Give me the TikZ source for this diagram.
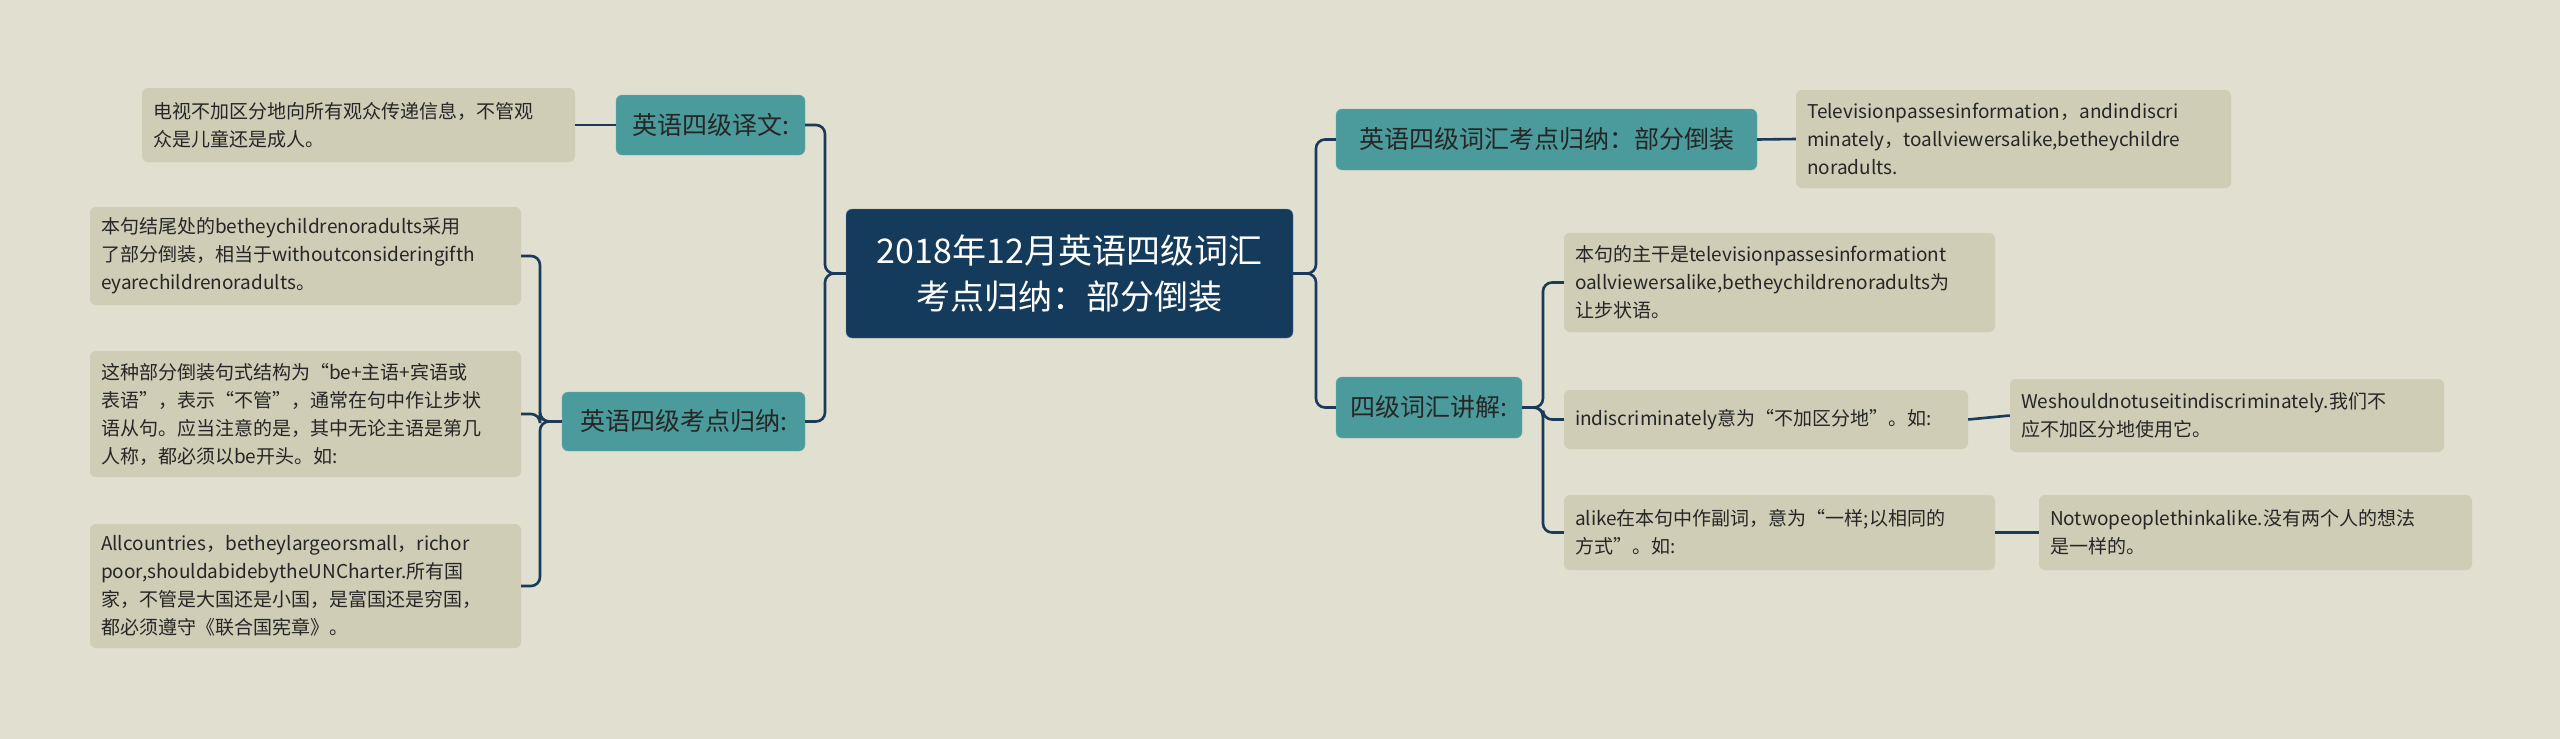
\documentclass[tikz,border=0pt]{standalone}
\usepackage{fontspec}
\setmainfont{Noto Sans CJK SC}
\begin{document}
\begin{tikzpicture}[x=1pt,y=-1pt,
  leaf/.style={fill=leafc,rounded corners=6,inner xsep=11pt,inner ysep=0pt,align=left,font=\fontsize{19}{28}\selectfont,text=black!85},
  branch/.style={fill=brc,draw=brc!80!white,rounded corners=6,inner sep=0pt,font=\fontsize{25}{30}\selectfont,text=black!85},
  conn/.style={draw=linec,line width=2.6pt,rounded corners=9}]
\definecolor{bgc}{HTML}{E0DFD0}
\definecolor{leafc}{HTML}{CFCDB6}
\definecolor{brc}{HTML}{4C9B9C}
\definecolor{rootc}{HTML}{143A5C}
\definecolor{linec}{HTML}{1B3A5A}
\fill[bgc] (0,0) rectangle (2560,739);
\useasboundingbox (0,0) rectangle (2560,739);
\node[fill=rootc,draw=rootc!60!white,rounded corners=6,minimum width=447pt,minimum height=129pt,text=white,align=center,font=\fontsize{34}{46}\selectfont] (root) at (1069.5,273.5) {2018年12月英语四级词汇\\考点归纳：部分倒装};
% left
\node[branch,minimum width=189pt,minimum height=60pt] (L1) at (710.5,125) {英语四级译文:};
\node[branch,minimum width=243pt,minimum height=59pt] (L2) at (683.5,421.5) {英语四级考点归纳:};
\node[leaf,text width=411pt,minimum height=74pt] (l1a) at (358.5,125) {电视不加区分地向所有观众传递信息，不管观\\众是儿童还是成人。};
\node[leaf,text width=409pt,minimum height=98pt] (l2a) at (305.5,256) {本句结尾处的betheychildrenoradults采用\\了部分倒装，相当于withoutconsideringifth\\eyarechildrenoradults。};
\node[leaf,text width=409pt,minimum height=126pt] (l2b) at (305.5,414) {这种部分倒装句式结构为“be+主语+宾语或\\表语”，表示“不管”，通常在句中作让步状\\语从句。应当注意的是，其中无论主语是第几\\人称，都必须以be开头。如:};
\node[leaf,text width=409pt,minimum height=124pt] (l2c) at (305.5,586) {Allcountries，betheylargeorsmall，richor\\poor,shouldabidebytheUNCharter.所有国\\家，不管是大国还是小国，是富国还是穷国，\\都必须遵守《联合国宪章》。};
% right
\node[branch,minimum width=421pt,minimum height=61pt] (R1) at (1546.5,139.5) {英语四级词汇考点归纳：部分倒装};
\node[branch,minimum width=186pt,minimum height=61pt] (R2) at (1429,407.5) {四级词汇讲解:};
\node[leaf,text width=413pt,minimum height=98pt] (r1a) at (2013.5,139) {Televisionpassesinformation，andindiscri\\minately，toallviewersalike,betheychildre\\noradults.};
\node[leaf,text width=409pt,minimum height=99pt] (r2a) at (1779.5,282.5) {本句的主干是televisionpassesinformationt\\oallviewersalike,betheychildrenoradults为\\让步状语。};
\node[leaf,text width=382pt,minimum height=59pt] (r2b) at (1766,419.5) {indiscriminately意为“不加区分地”。如:};
\node[leaf,text width=409pt,minimum height=75pt] (r2c) at (1779.5,532.5) {alike在本句中作副词，意为“一样;以相同的\\方式”。如:};
\node[leaf,text width=412pt,minimum height=73pt] (r2b1) at (2227,415.5) {Weshouldnotuseitindiscriminately.我们不\\应不加区分地使用它。};
\node[leaf,text width=411pt,minimum height=75pt] (r2c1) at (2255.5,532.5) {Notwopeoplethinkalike.没有两个人的想法\\是一样的。};
% connectors
\draw[conn] (root.west) -- (825,273.5) |- (L1.east);
\draw[conn] (root.west) -- (825,273.5) |- (L2.east);
\draw[conn] (L1.west) -- (l1a.east);
\foreach \n in {l2a,l2b,l2c}{\draw[conn] (L2.west) -- (540,421.5) |- (\n.east);}
\draw[conn] (root.east) -- (1316,273.5) |- (R1.west);
\draw[conn] (root.east) -- (1316,273.5) |- (R2.west);
\draw[conn] (R1.east) -- (r1a.west);
\foreach \n in {r2a,r2b,r2c}{\draw[conn] (R2.east) -- (1543,407.5) |- (\n.west);}
\draw[conn] (r2b.east) -- (r2b1.west);
\draw[conn] (r2c.east) -- (r2c1.west);
\end{tikzpicture}
\end{document}
